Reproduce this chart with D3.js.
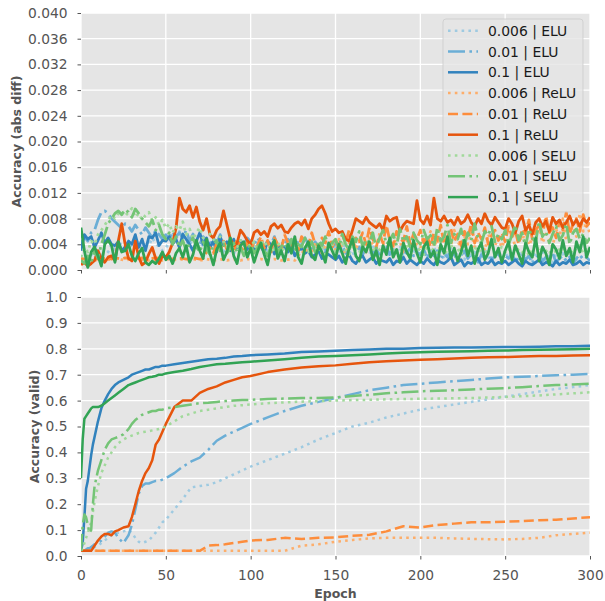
<!DOCTYPE html>
<html>
<head>
<meta charset="utf-8">
<script src="https://cdn.jsdelivr.net/npm/d3@7"></script>
<style>
  body { margin: 0; background: #fff; }
  text { font-family: "DejaVu Sans", sans-serif; }
</style>
</head>
<body>
<svg id="chart" width="605" height="601"></svg>
<script>
'use strict';

var runNames = ["0.006 | ELU", "0.01 | ELU", "0.1 | ELU",
                "0.006 | ReLU", "0.01 | ReLU", "0.1 | ReLU",
                "0.006 | SELU", "0.01 | SELU", "0.1 | SELU"];

// top panel: accuracy abs diff, one value every 2 epochs, in units of 1e-4
var diffEpochs = d3.range(0, 301, 2);
var diffElu006 = [
  10,15,20,25,18,30,22,35,28,40,32,45,38,30,42,35,48,40,33,45,38,50,42,36,30,
  35,42,55,48,60,52,45,38,50,42,35,40,32,45,38,30,36,28,40,33,25,38,30,42,35,
  28,40,32,45,36,30,42,35,28,38,45,32,40,48,35,42,30,38,45,33,40,28,36,42,30,
  38,25,33,42,30,22,35,28,40,32,25,36,30,22,34,28,20,32,26,38,24,30,20,28,35,
  25,32,20,28,36,22,30,18,26,34,20,28,24,16,30,22,28,18,26,32,20,14,24,30,18,
  26,20,30,16,24,28,18,22,14,26,20,28,16,22,12,24,18,26,14,20,28,16,22,18,24,
  20];
var diffElu01 = [
  40,52,45,58,62,78,90,92,88,80,75,70,65,72,68,60,70,62,55,66,58,50,62,55,48,
  55,48,60,52,58,50,62,45,56,48,40,52,46,38,50,42,55,45,38,48,42,35,46,40,50,
  44,38,50,42,35,46,40,52,36,44,38,48,42,34,45,38,50,40,33,44,36,42,30,40,35,
  42,30,38,26,35,40,28,36,24,32,38,26,34,22,30,36,24,32,28,20,30,26,34,22,28,
  24,32,18,28,22,30,16,26,20,28,24,14,22,30,18,26,20,12,24,18,28,16,22,26,14,
  22,18,26,12,20,24,16,22,10,18,24,14,20,16,26,12,18,22,14,20,10,18,24,16,20,
  14];
var diffElu1 = [
  30,55,48,52,35,46,58,42,50,40,38,44,30,36,45,40,55,35,48,30,52,50,58,38,46,
  45,52,40,48,35,56,48,40,30,45,58,40,50,35,45,28,52,38,44,30,48,35,46,40,32,
  42,30,38,36,28,45,38,25,40,32,36,28,38,22,30,34,26,30,20,24,30,18,26,24,20,
  16,22,12,18,24,14,10,18,22,12,16,20,10,16,14,12,18,8,14,12,20,10,16,12,8,
  14,10,18,12,8,16,12,10,14,20,8,12,16,6,12,10,14,18,8,12,10,16,8,12,10,
  14,8,12,16,10,6,14,10,8,12,16,8,12,10,6,14,8,12,10,16,8,10,14,8,12,
  10];
var diffRelu006 = [
  16,15,17,16,15,16,17,15,16,16,15,17,16,15,16,17,16,15,16,17,15,16,16,17,15,
  16,17,15,16,16,17,15,16,17,16,15,16,17,16,15,16,16,17,15,16,17,16,15,16,17,
  16,15,16,17,16,15,16,17,16,15,16,16,17,15,22,30,25,38,28,42,35,26,40,32,45,
  30,48,36,25,42,55,32,46,38,28,50,40,34,58,42,30,48,36,52,44,28,46,38,55,40,
  34,50,42,60,36,48,30,54,44,38,62,46,32,52,40,58,36,48,42,30,56,44,38,50,35,
  48,40,58,34,52,45,62,38,50,44,70,42,56,48,36,64,50,80,46,58,72,52,88,60,75,
  55];
var diffRelu01 = [
  18,17,18,19,18,17,18,18,19,17,18,18,17,19,18,17,18,18,19,18,17,18,19,18,17,
  18,18,17,19,18,18,17,18,19,18,17,18,28,35,26,42,30,45,32,40,26,48,36,30,44,
  30,44,38,52,34,46,28,50,40,32,55,42,36,48,30,52,44,38,58,40,34,50,42,60,36,
  46,38,55,42,62,35,50,44,58,40,66,48,36,54,42,70,46,38,60,50,44,68,40,56,48,
  62,42,54,36,58,46,70,40,52,64,44,56,38,60,50,72,42,58,48,66,40,54,62,46,58,
  44,68,52,60,40,64,56,78,48,62,70,54,84,58,66,50,76,62,90,56,72,80,60,86,68,
  74];
var diffRelu1 = [
  8,12,6,10,15,30,18,12,20,22,15,45,72,40,18,14,45,20,8,12,25,35,18,10,22,
  20,28,42,65,112,95,90,100,82,98,75,62,80,55,50,62,68,92,70,48,38,42,62,55,46,
  40,58,62,55,60,52,68,72,65,70,60,58,66,72,75,70,78,64,80,86,95,100,88,72,60,
  64,58,60,48,45,62,80,76,72,82,74,70,66,72,62,84,76,80,82,60,70,76,74,72,108,
  78,72,84,70,112,80,76,84,74,78,70,82,72,76,86,74,68,80,72,88,76,70,82,74,66,
  64,80,72,58,76,84,62,70,56,74,80,68,76,60,82,72,78,66,74,84,70,78,68,80,74,
  82];
var diffSelu006 = [
  20,35,28,45,40,55,62,70,78,85,80,88,92,84,90,96,82,88,78,85,90,76,82,70,78,
  65,72,58,68,62,75,55,64,48,58,66,50,44,56,48,40,52,44,36,48,40,34,46,38,42,
  36,44,30,40,46,34,38,28,42,36,30,44,32,38,26,40,34,28,42,36,30,38,24,34,40,
  28,36,42,30,24,38,32,26,40,34,28,36,22,32,38,26,30,36,24,34,28,40,30,26,36,
  30,24,38,28,34,22,36,30,26,40,28,34,24,38,30,26,36,28,32,22,34,40,26,30,36,
  28,34,24,38,30,26,36,22,32,40,28,34,30,24,38,26,32,36,28,22,34,30,38,26,32,
  30];
var diffSelu01 = [
  15,10,22,12,30,18,40,55,72,80,88,92,86,94,90,82,95,88,80,74,68,78,62,70,55,
  48,58,40,52,35,46,30,42,50,36,28,44,32,24,38,46,30,40,26,34,42,28,36,22,32,
  40,26,34,44,30,22,38,46,28,36,42,32,48,30,40,36,50,34,44,28,46,38,52,36,42,
  48,34,56,40,30,52,44,60,36,48,42,58,34,50,62,40,46,56,38,64,44,52,36,58,46,
  40,62,48,54,36,66,44,52,70,42,56,48,64,38,58,46,72,50,42,60,54,68,44,56,48,
  62,40,54,70,46,58,36,64,50,44,76,52,60,42,56,68,46,54,72,40,58,64,48,56,42,
  50];
var diffSelu1 = [
  66,30,4,28,36,22,6,40,46,38,12,44,28,30,40,22,14,26,34,12,8,14,10,18,28,
  16,22,10,26,34,20,38,12,24,46,30,18,48,26,8,32,42,16,28,50,22,10,38,44,20,
  34,12,28,42,24,8,36,46,18,30,14,40,26,52,20,10,34,44,22,16,38,28,12,42,30,
  18,40,26,10,34,48,22,14,36,28,44,16,30,8,38,24,50,20,32,12,42,28,18,46,26,
  12,36,44,20,30,8,40,26,52,18,34,14,28,46,22,38,10,32,42,16,26,48,20,34,12,
  30,44,16,38,24,10,42,28,20,50,14,36,26,8,40,32,18,46,22,34,12,44,28,52,20,
  36];

// bottom panel: validation accuracy
var validEpochs = [0,1,2,3,4,5,6,7,8,10, 12,14,16,18,20,22,25,28,30,32,
  34,36,38,40,42,44,46,48,50,55, 60,65,70,75,80,85,90,95,100,110,
  120,130,140,150,160,170,180,190,200,210, 220,230,240,250,260,270,280,290,300];
var validElu006 = [.02,.02,.02,.02,.02,.02,.025,.03,.035,.04, .05,.06,.07,.08,.085,.09,.095,.10,.09,.07,
  .055,.05,.055,.06,.075,.09,.11,.13,.14,.18, .22,.265,.27,.275,.285,.30,.315,.33,.345,.37,
  .395,.42,.45,.475,.50,.515,.535,.55,.565,.575, .585,.595,.605,.615,.625,.635,.645,.652,.66];
var validElu01 = [.02,.02,.02,.025,.03,.03,.035,.04,.045,.05, .06,.075,.09,.095,.09,.07,.05,.08,.12,.18,
  .24,.27,.28,.28,.285,.29,.29,.295,.30,.32, .345,.365,.38,.41,.445,.465,.48,.495,.51,.535,
  .56,.58,.595,.61,.625,.64,.65,.66,.665,.67, .675,.68,.685,.69,.692,.695,.698,.70,.703];
var validElu1 = [.02,.05,.15,.26,.29,.34,.39,.43,.46,.52, .57,.60,.625,.645,.66,.67,.68,.69,.70,.705,
  .71,.715,.72,.72,.725,.73,.73,.735,.735,.74, .745,.75,.755,.76,.762,.765,.77,.772,.775,.778,
  .782,.788,.79,.792,.795,.797,.80,.80,.803,.804, .805,.805,.806,.807,.807,.808,.81,.81,.812];
var validRelu006 = [.02,.02,.02,.02,.02,.02,.02,.02,.02,.02, .02,.02,.02,.02,.02,.02,.02,.02,.02,.02,
  .02,.02,.02,.02,.02,.02,.02,.02,.02,.02, .02,.02,.02,.02,.02,.02,.02,.02,.02,.02,
  .02,.04,.045,.055,.062,.068,.07,.07,.07,.07, .068,.066,.065,.064,.066,.07,.08,.085,.09];
var validRelu01 = [.02,.02,.02,.02,.02,.02,.02,.02,.02,.02, .02,.02,.02,.02,.02,.02,.02,.02,.02,.02,
  .02,.02,.02,.02,.02,.02,.02,.02,.02,.02, .02,.02,.02,.04,.042,.045,.05,.055,.06,.062,
  .07,.066,.07,.072,.078,.082,.095,.115,.11,.12, .125,.13,.13,.132,.135,.138,.14,.145,.15];
var validRelu1 = [.02,.02,.02,.02,.02,.02,.02,.03,.04,.06, .075,.085,.085,.08,.095,.10,.11,.115,.15,.20,
  .25,.29,.32,.34,.37,.43,.45,.48,.51,.575, .60,.60,.63,.645,.655,.67,.68,.69,.695,.71,
  .72,.728,.733,.736,.742,.748,.752,.755,.758,.76, .763,.765,.767,.768,.77,.772,.772,.774,.775];
var validSelu006 = [.02,.03,.05,.07,.09,.11,.13,.17,.21,.27, .32,.35,.38,.40,.42,.435,.45,.46,.465,.47,
  .475,.478,.48,.482,.485,.488,.49,.495,.50,.52, .54,.55,.56,.565,.57,.575,.58,.582,.585,.59,
  .593,.596,.598,.60,.602,.603,.605,.606,.607,.608, .609,.61,.612,.614,.617,.62,.624,.628,.632];
var validSelu01 = [.02,.12,.16,.15,.12,.09,.10,.20,.27,.33, .37,.41,.435,.45,.455,.46,.47,.49,.51,.525,
  .535,.545,.55,.555,.56,.56,.565,.565,.57,.575, .58,.585,.59,.592,.595,.598,.60,.602,.603,.606,
  .608,.61,.61,.612,.618,.622,.628,.632,.636,.638, .64,.643,.646,.648,.652,.656,.66,.662,.665];
var validSelu1 = [.30,.45,.53,.54,.55,.56,.57,.575,.575,.575, .58,.59,.60,.61,.62,.63,.645,.66,.665,.67,
  .675,.68,.685,.69,.692,.695,.70,.70,.705,.71, .715,.722,.73,.735,.74,.742,.745,.748,.75,.755,
  .76,.765,.77,.772,.775,.778,.782,.785,.787,.789, .79,.791,.792,.793,.795,.796,.797,.798,.80];

var diffTicks = [0, 0.004, 0.008, 0.012, 0.016, 0.020, 0.024, 0.028, 0.032, 0.036, 0.040];
var validTicks = [0, 0.1, 0.2, 0.3, 0.4, 0.5, 0.6, 0.7, 0.8, 0.9, 1.0];
var epochTicks = [0, 50, 100, 150, 200, 250, 300];

var diffData = [diffElu006, diffElu01, diffElu1, diffRelu006, diffRelu01, diffRelu1, diffSelu006, diffSelu01, diffSelu1];
var validData = [validElu006, validElu01, validElu1, validRelu006, validRelu01, validRelu1, validSelu006, validSelu01, validSelu1];

// styles
var colors = ["#9ecae1", "#6baed6", "#3182bd", "#fdae6b", "#fd8d3c", "#e6550d", "#a1d99b", "#74c476", "#31a354"];
var DOT = "2.6,4.2", DASH = "10,4.4", DASHDOT = "17,4.4,2.6,4.4";
var dashes = [DOT, DASHDOT, null, DOT, DASH, null, DOT, DASHDOT, null];

var svg = d3.select("#chart");
var x = d3.scaleLinear().domain([0, 300]).range([81, 590]);
var yDiff = d3.scaleLinear().domain([0, 0.04]).range([270, 13]);
var yValid = d3.scaleLinear().domain([0, 1]).range([556, 297]);

function drawPanel(id, y, epochs, data, scale, ticks, fmt, label, labelX, showXLabels, lw) {
  var top = y.range()[1], bottom = y.range()[0];
  var g = svg.append("g");
  g.append("rect")
    .attr("x", x(0)).attr("y", top)
    .attr("width", x(300) - x(0)).attr("height", bottom - top)
    .attr("fill", "#e5e5e5");
  g.selectAll(".hg").data(ticks).enter().append("line")
    .attr("x1", x(0)).attr("x2", x(300))
    .attr("y1", function(d) { return y(d); }).attr("y2", function(d) { return y(d); })
    .attr("stroke", "#fff").attr("stroke-width", 1.3);
  g.selectAll(".vg").data(epochTicks).enter().append("line")
    .attr("y1", top).attr("y2", bottom)
    .attr("x1", function(d) { return x(d); }).attr("x2", function(d) { return x(d); })
    .attr("stroke", "#fff").attr("stroke-width", 1.3);

  svg.append("clipPath").attr("id", "clip-" + id).append("rect")
    .attr("x", x(0)).attr("y", top)
    .attr("width", x(300) - x(0)).attr("height", bottom - top);

  var line = d3.line()
    .x(function(d, i) { return x(epochs[i]); })
    .y(function(d) { return y(d * scale); });

  g.append("g").attr("clip-path", "url(#clip-" + id + ")")
    .selectAll("path").data(data).enter().append("path")
    .attr("d", line)
    .attr("fill", "none")
    .attr("stroke", function(d, i) { return colors[i]; })
    .attr("stroke-width", lw)
    .attr("stroke-linejoin", "round")
    .attr("stroke-dasharray", function(d, i) { return dashes[i]; });

  var yAxis = g.append("g")
    .attr("transform", "translate(" + x(0) + ",0)")
    .call(d3.axisLeft(y).tickValues(ticks).tickFormat(d3.format(fmt)).tickSize(3.5).tickPadding(10));
  var xAxis = g.append("g")
    .attr("transform", "translate(0," + bottom + ")")
    .call(d3.axisBottom(x).tickValues(epochTicks).tickSize(3.5).tickPadding(10.5)
      .tickFormat(showXLabels ? d3.format("d") : function() { return ""; }));
  [yAxis, xAxis].forEach(function(a) {
    a.select(".domain").remove();
    a.selectAll("line").attr("stroke", "#555555");
    a.selectAll("text").attr("fill", "#555555").style("font-size", "13.8px")
      .style("font-family", "'DejaVu Sans', sans-serif");
  });

  g.append("text")
    .attr("transform", "translate(" + labelX + "," + ((top + bottom) / 2) + ") rotate(-90)")
    .attr("text-anchor", "middle")
    .attr("dominant-baseline", "central")
    .attr("fill", "#555555")
    .style("font-size", "12.5px")
    .style("font-weight", "bold")
    .text(label);
  return g;
}

drawPanel("diff", yDiff, diffEpochs, diffData, 1e-4, diffTicks, ".3f", "Accuracy (abs diff)", 16, false, 2.8);
drawPanel("valid", yValid, validEpochs, validData, 1, validTicks, ".1f", "Accuracy (valid)", 34, true, 2.5);

svg.append("text")
  .attr("x", (x(0) + x(300)) / 2).attr("y", 593)
  .attr("text-anchor", "middle").attr("dominant-baseline", "central")
  .attr("fill", "#555555")
  .style("font-size", "12.5px").style("font-weight", "bold")
  .text("Epoch");

// legend
var legend = svg.append("g").attr("transform", "translate(443,19)");
legend.append("rect")
  .attr("width", 140).attr("height", 193).attr("rx", 3)
  .attr("fill", "#e5e5e5").attr("fill-opacity", 0.8)
  .attr("stroke", "#cccccc").attr("stroke-opacity", 0.8);
var item = legend.selectAll(".item").data(runNames).enter().append("g")
  .attr("transform", function(d, i) { return "translate(0," + (11.7 + i * 20.8) + ")"; });
item.append("line")
  .attr("x1", 5).attr("x2", 35)
  .attr("stroke", function(d, i) { return colors[i]; })
  .attr("stroke-width", 2.5)
  .attr("stroke-dasharray", function(d, i) { return dashes[i]; });
item.append("text")
  .attr("x", 45).attr("dominant-baseline", "central")
  .attr("fill", "#1a1a1a")
  .style("font-size", "13.9px")
  .text(function(d) { return d; });
</script>
</body>
</html>
